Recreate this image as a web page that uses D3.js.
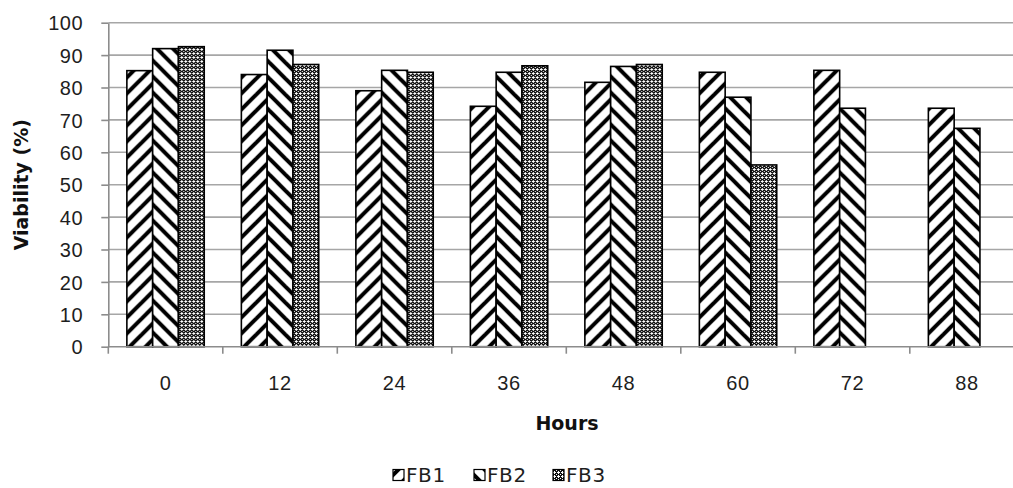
<!DOCTYPE html>
<html>
<head>
<meta charset="utf-8">
<script src="https://cdn.jsdelivr.net/npm/d3@7"></script>
<style>
  body { margin: 0; background: #fff; }
  svg { display: block; font-family: "DejaVu Sans", sans-serif; }
  .tick-label { font-size: 20px; letter-spacing: 0.6px; fill: #1e1e1e; }
  .axis-title { font-size: 19px; font-weight: bold; fill: #111; }
  .legend-label { font-size: 20px; letter-spacing: 0.6px; fill: #1e1e1e; }
</style>
</head>
<body>
<div id="chart"></div>
<script>
// data
var hours = ["0", "12", "24", "36", "48", "60", "72", "88"];
var series = ["FB1", "FB2", "FB3"];
var fb1 = [85.2, 84, 79, 74.2, 81.6, 84.7, 85.3, 73.6];
var fb2 = [92, 91.5, 85.3, 84.7, 86.5, 77, 73.6, 67.4];
var fb3 = [92.6, 87.1, 84.7, 86.7, 87.1, 56.1, null, null];
var yTicks = [0, 10, 20, 30, 40, 50, 60, 70, 80, 90, 100];

var values = { FB1: fb1, FB2: fb2, FB3: fb3 };

var width = 1013, height = 488;
var margin = { top: 22.7, left: 108.3, bottom: 346.7, right: 1024.3 };

var svg = d3.select("#chart").append("svg")
    .attr("width", width)
    .attr("height", height);

// patterns
var defs = svg.append("defs");

var p1 = defs.append("pattern")
    .attr("id", "pat-FB1")
    .attr("patternUnits", "userSpaceOnUse")
    .attr("width", 16).attr("height", 16);
p1.append("rect").attr("width", 16).attr("height", 16).attr("fill", "#fff");
[[-8, 8, 8, -8], [0, 16, 16, 0], [8, 24, 24, 8]].forEach(function(l) {
    p1.append("line")
        .attr("x1", l[0]).attr("y1", l[1]).attr("x2", l[2]).attr("y2", l[3])
        .attr("stroke", "#000").attr("stroke-width", 4);
});

var p2 = defs.append("pattern")
    .attr("id", "pat-FB2")
    .attr("patternUnits", "userSpaceOnUse")
    .attr("width", 16).attr("height", 16);
p2.append("rect").attr("width", 16).attr("height", 16).attr("fill", "#fff");
[[-8, 8, 8, 24], [0, 0, 16, 16], [8, -8, 24, 8]].forEach(function(l) {
    p2.append("line")
        .attr("x1", l[0]).attr("y1", l[1]).attr("x2", l[2]).attr("y2", l[3])
        .attr("stroke", "#000").attr("stroke-width", 4);
});

// small white crosses on black
var p3 = defs.append("pattern")
    .attr("id", "pat-FB3")
    .attr("patternUnits", "userSpaceOnUse")
    .attr("width", 4).attr("height", 4);
p3.append("rect").attr("width", 4).attr("height", 4).attr("fill", "#111");
[[1, 0], [0, 1], [1, 1], [2, 1], [1, 2], [3, 3]].forEach(function(c) {
    p3.append("rect").attr("x", c[0]).attr("y", c[1]).attr("width", 1).attr("height", 1).attr("fill", "#fff");
});

// scales
var x0 = d3.scaleBand()
    .domain(hours)
    .range([margin.left, margin.right])
    .paddingInner(0).paddingOuter(0);

var x1 = d3.scaleBand()
    .domain(series)
    .range([0, x0.bandwidth()])
    .paddingInner(0).paddingOuter(0.72);

var y = d3.scaleLinear()
    .domain([0, 100])
    .range([margin.bottom, margin.top]);

// gridlines
svg.append("g")
    .selectAll("line")
    .data(yTicks.filter(function(d) { return d > 0; }))
    .enter().append("line")
    .attr("x1", margin.left).attr("x2", width + 20)
    .attr("y1", function(d) { return y(d); })
    .attr("y2", function(d) { return y(d); })
    .attr("stroke", "#a6a6a6")
    .attr("stroke-width", 1.6);

// bars
var groups = svg.append("g")
    .selectAll("g")
    .data(hours)
    .enter().append("g")
    .attr("transform", function(d) { return "translate(" + x0(d) + ",0)"; });

groups.selectAll("rect")
    .data(function(h, i) {
        return series
            .map(function(s) { return { key: s, value: values[s][i] }; })
            .filter(function(d) { return d.value != null; });
    })
    .enter().append("rect")
    .attr("x", function(d) { return x1(d.key); })
    .attr("y", function(d) { return y(d.value); })
    .attr("width", x1.bandwidth())
    .attr("height", function(d) { return y(0) - y(d.value); })
    .attr("fill", function(d) { return "url(#pat-" + d.key + ")"; })
    .attr("stroke", "#000")
    .attr("stroke-width", 1.6);

// y axis
var yAxis = svg.append("g")
    .attr("transform", "translate(" + margin.left + ",0)")
    .call(d3.axisLeft(y).tickValues(yTicks).tickSize(7).tickPadding(18).tickSizeOuter(0));
yAxis.select(".domain").attr("stroke", "#8c8c8c").attr("stroke-width", 1.6);
yAxis.selectAll(".tick line").attr("stroke", "#8c8c8c").attr("stroke-width", 1.6);
yAxis.selectAll(".tick text")
    .attr("class", "tick-label")
    .attr("font-family", null).attr("font-size", null)
    .attr("x", -25)
    .attr("dy", "0.36em");

// x axis
var xAxis = svg.append("g")
    .attr("transform", "translate(0," + margin.bottom + ")")
    .call(d3.axisBottom(x0).tickSize(0).tickPadding(28).tickSizeOuter(0));
xAxis.select(".domain").remove();
xAxis.selectAll(".tick text")
    .attr("class", "tick-label")
    .attr("font-family", null).attr("font-size", null)
    .attr("y", 36).attr("dy", "0.36em");

svg.append("line")
    .attr("x1", margin.left).attr("x2", width + 20)
    .attr("y1", margin.bottom).attr("y2", margin.bottom)
    .attr("stroke", "#8c8c8c").attr("stroke-width", 1.6);

// category boundary ticks
var bounds = hours.map(function(h) { return x0(h); }).concat([margin.right]);
svg.append("g")
    .selectAll("line")
    .data(bounds)
    .enter().append("line")
    .attr("x1", function(d) { return d; })
    .attr("x2", function(d) { return d; })
    .attr("y1", margin.bottom)
    .attr("y2", margin.bottom + 7)
    .attr("stroke", "#8c8c8c").attr("stroke-width", 1.6);

// axis titles
svg.append("text")
    .attr("class", "axis-title")
    .attr("x", 567)
    .attr("y", 423)
    .attr("dy", "0.36em")
    .attr("text-anchor", "middle")
    .text("Hours");

svg.append("text")
    .attr("class", "axis-title")
    .attr("transform", "translate(21," + ((margin.top + margin.bottom) / 2) + ") rotate(-90)")
    .attr("dy", "0.36em")
    .attr("text-anchor", "middle")
    .text("Viability (%)");

// legend
var legendX = [393, 474, 553];
var legend = svg.append("g")
    .selectAll("g")
    .data(series)
    .enter().append("g")
    .attr("transform", function(d, i) { return "translate(" + legendX[i] + ",475)"; });

legend.append("rect")
    .attr("x", 0).attr("y", -5.5)
    .attr("width", 11).attr("height", 11)
    .attr("fill", function(d) { return "url(#pat-" + d + ")"; })
    .attr("stroke", "#000").attr("stroke-width", 1.2);

legend.append("text")
    .attr("class", "legend-label")
    .attr("x", 13)
    .attr("dy", "0.36em")
    .text(function(d) { return d; });
</script>
</body>
</html>
